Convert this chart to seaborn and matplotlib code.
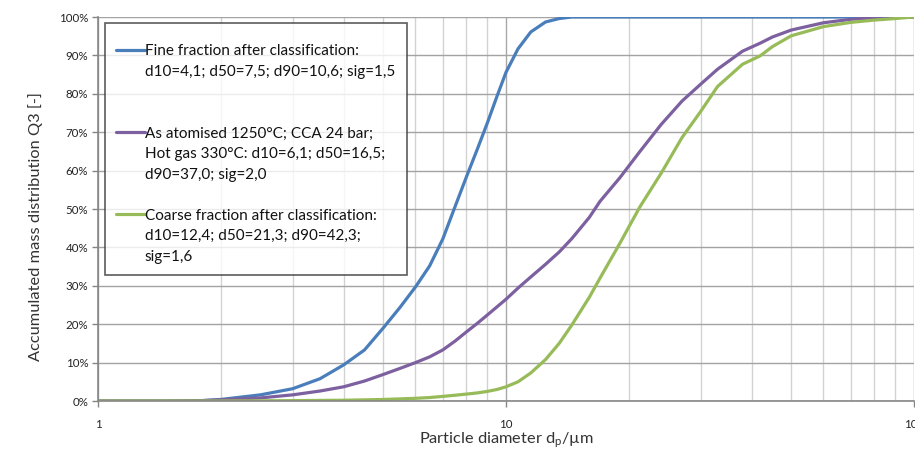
import matplotlib
matplotlib.use("Agg")
import matplotlib.pyplot as plt
import seaborn as sns
import pandas as pd
from matplotlib.lines import Line2D

# ---------------- data ----------------
diameter = [1, 1.5, 1.8, 2, 2.5, 3, 3.5, 4, 4.5, 5, 5.5, 6, 6.5, 7, 7.5, 8, 8.5, 9, 9.5,
            10, 10.7, 11.5, 12.5, 13.5, 14.5, 16, 17, 19, 21.3, 24, 27, 30, 33, 38, 42,
            45, 50, 60, 70, 80, 90, 100]

fine = [0, 0, 0.1, 0.4, 1.6, 3.2, 5.8, 9.4, 13.3, 19.0, 24.4, 29.7, 35.2, 42.2, 50.6, 58.4,
        65.5, 72.4, 79.3, 85.6, 91.7, 96.1, 98.7, 99.6, 100, 100, 100, 100, 100, 100, 100,
        100, 100, 100, 100, 100, 100, 100, 100, 100, 100, 100]

atomised = [0, 0, 0.1, 0.3, 0.8, 1.6, 2.6, 3.7, 5.2, 6.9, 8.5, 10.0, 11.5, 13.3, 15.6, 18.0,
            20.2, 22.4, 24.5, 26.5, 29.4, 32.3, 35.6, 38.8, 42.3, 47.8, 52.0, 58.1, 65.0,
            72.0, 78.1, 82.5, 86.4, 91.1, 93.2, 94.8, 96.6, 98.5, 99.4, 99.8, 99.9, 100]

coarse = [0, 0, 0, 0, 0.05, 0.1, 0.15, 0.2, 0.3, 0.4, 0.55, 0.7, 0.9, 1.2, 1.5, 1.8, 2.1,
          2.5, 3.0, 3.7, 5.0, 7.3, 10.8, 15.0, 19.8, 27.0, 32.0, 41.0, 50.6, 59.3, 68.6,
          75.4, 81.9, 87.7, 89.9, 92.3, 95.1, 97.5, 98.6, 99.2, 99.6, 100]

series_labels = [
    "Fine fraction after classification:\nd10=4,1; d50=7,5; d90=10,6; sig=1,5",
    "As atomised 1250°C; CCA 24 bar;\nHot gas 330°C: d10=6,1; d50=16,5;\nd90=37,0; sig=2,0",
    "Coarse fraction after classification:\nd10=12,4; d50=21,3; d90=42,3;\nsig=1,6",
]
series_colors = ["#4a7ebb", "#7d60a0", "#98bb59"]

x_ticks = [1, 10, 100]
x_tick_labels = ["1", "10", "100"]
y_ticks = [0, 10, 20, 30, 40, 50, 60, 70, 80, 90, 100]
y_tick_labels = [f"{v}%" for v in y_ticks]

# ---------------- frame ----------------
frames = []
for lab, vals in zip(series_labels, [fine, atomised, coarse]):
    frames.append(pd.DataFrame({"d": diameter, "q3": vals, "series": lab}))
df = pd.concat(frames, ignore_index=True)

sns.set_style("white")
plt.rcParams["font.family"] = ["Lato", "DejaVu Sans"]

fig = plt.figure(figsize=(9.15, 4.51), dpi=100)
ax = fig.add_axes([98 / 915, 50 / 451, 816 / 915, 384 / 451])

sns.lineplot(data=df, x="d", y="q3", hue="series", hue_order=series_labels,
             palette=series_colors, linewidth=2.3, ax=ax, legend=False, sort=False,
             estimator=None)

ax.set_xscale("log")
ax.set_xlim(1, 100)
ax.set_ylim(0, 100)

# grid
ax.set_axisbelow(True)
ax.grid(which="major", axis="y", color="#a3a3a3", linewidth=1.0)
ax.grid(which="major", axis="x", color="#a8a8a8", linewidth=1.0)
ax.grid(which="minor", axis="x", color="#d2d2d2", linewidth=1.0)

ax.set_xticks(x_ticks, labels=x_tick_labels)
ax.set_yticks(y_ticks, labels=y_tick_labels)
ax.tick_params(axis="x", which="major", length=4, width=1, color="#868686", pad=9,
               labelsize=8.3, labelcolor="#222222", direction="out", bottom=True)
ax.tick_params(axis="x", which="minor", length=0)
ax.tick_params(axis="y", which="major", length=4, width=1, color="#868686", pad=3,
               labelsize=8.3, labelcolor="#222222", direction="out", left=True)

for s in ["top", "right"]:
    ax.spines[s].set_visible(False)
for s in ["left", "bottom"]:
    ax.spines[s].set_color("#868686")
    ax.spines[s].set_linewidth(1.2)

ax.set_xlabel("Particle diameter d$_\\mathregular{p}$/µm", fontsize=11.8, color="#333333",
              labelpad=0)
ax.set_ylabel("Accumulated mass distribution Q3 [-]", fontsize=11.8, color="#333333")
ax.yaxis.set_label_coords(-0.068, 0.455)

# legend: first line carries the handle, further lines and spacers are blank rows
blank = Line2D([], [], color="none")
handles, labels = [], []
line_handles = ax.get_lines()
rows_per_entry = 4
for i, lab in enumerate(series_labels):
    parts = lab.split("\n")
    for j, p in enumerate(parts):
        handles.append(line_handles[i] if j == 0 else blank)
        labels.append(p)
    if i < len(series_labels) - 1:
        for _ in range(rows_per_entry - len(parts)):
            handles.append(blank)
            labels.append(" ")

leg = ax.legend(handles, labels, loc="upper left",
                bbox_to_anchor=(7 / 816, 1 - 6 / 384, 302 / 816, 0), mode="expand",
                borderaxespad=0, frameon=True, fancybox=False, fontsize=11,
                handlelength=1.9, handletextpad=0.0, labelspacing=0.43, borderpad=0.7,
                title=" ", title_fontsize=2)
leg.get_frame().set_edgecolor("#333333")
leg.get_frame().set_linewidth(1.2)
for t in leg.get_texts():
    t.set_color("#111111")

fig.savefig("out.png", dpi=100)
